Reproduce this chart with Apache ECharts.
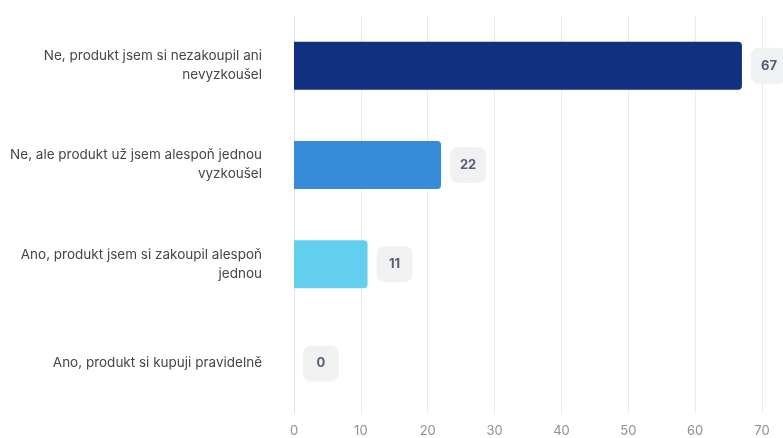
<!DOCTYPE html>
<html>
<head>
<meta charset="utf-8">
<script src="https://cdn.jsdelivr.net/npm/echarts@6/dist/echarts.min.js"></script>
<style>
  html, body { margin: 0; padding: 0; background: #ffffff; }
  #chart { width: 783px; height: 438px; }
</style>
</head>
<body>
<div id="chart"></div>
<script>
// Survey answers (top to bottom) and respondent counts
const categories = [
  'Ne, produkt jsem si nezakoupil ani\nnevyzkoušel',
  'Ne, ale produkt už jsem alespoň jednou\nvyzkoušel',
  'Ano, produkt jsem si zakoupil alespoň\njednou',
  'Ano, produkt si kupuji pravidelně'
];
const values = [67, 22, 11, 0];
const barColors = ['#11307f', '#388bd8', '#63cfef', '#2a9fd6'];
const xTicks = [0, 10, 20, 30, 40, 50, 60, 70];

const chart = echarts.init(document.getElementById('chart'));
chart.setOption({
  animation: false,
  textStyle: { fontFamily: 'Inter, "Noto Sans", sans-serif' },
  grid: { left: 294, right: 21, top: 16, bottom: 23, containLabel: false },
  xAxis: {
    type: 'value',
    min: xTicks[0],
    max: xTicks[xTicks.length - 1],
    interval: xTicks[1] - xTicks[0],
    axisLine: { show: false },
    axisTick: { show: false },
    splitLine: { lineStyle: { color: '#ebebef', width: 1 } },
    axisLabel: { color: '#8e8e98', fontSize: 13, margin: 12 }
  },
  yAxis: {
    type: 'category',
    inverse: true,
    data: categories,
    axisLine: { show: true, lineStyle: { color: '#dde2f0', width: 1 } },
    axisTick: { show: false },
    axisLabel: {
      color: '#45454d',
      fontSize: 13.5,
      lineHeight: 19,
      margin: 32,
      align: 'right',
      padding: [6, 0, 0, 0]
    }
  },
  series: [{
    type: 'bar',
    data: values.map((v, i) => ({ value: v, itemStyle: { color: barColors[i] } })),
    barWidth: 48,
    itemStyle: { borderRadius: [0, 4, 4, 0] },
    label: {
      show: true,
      position: 'right',
      distance: 9,
      formatter: '{v|{c}}',
      rich: {
        v: {
          color: '#5b5b78',
          fontSize: 13,
          fontWeight: 'bold',
          backgroundColor: '#f0f1f2',
          borderRadius: 8,
          width: 36,
          height: 36,
          lineHeight: 36,
          align: 'center'
        }
      }
    }
  }]
});
</script>
</body>
</html>
